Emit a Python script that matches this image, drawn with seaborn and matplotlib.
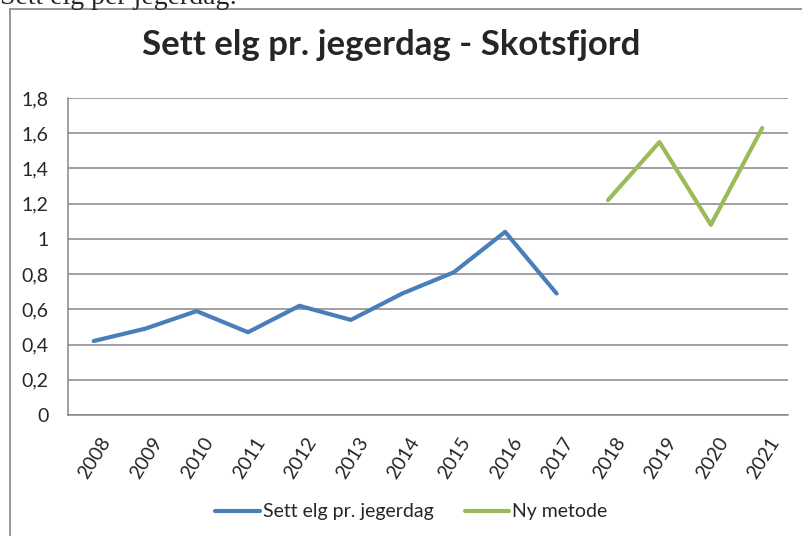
import numpy as np
import pandas as pd
import matplotlib
matplotlib.use('Agg')
import matplotlib.pyplot as plt
import matplotlib.transforms as mtransforms
from matplotlib.lines import Line2D
from matplotlib.ticker import FixedLocator, FuncFormatter
import seaborn as sns

# Data
years_old = [2008, 2009, 2010, 2011, 2012, 2013, 2014, 2015, 2016, 2017]
sett_elg = [0.42, 0.49, 0.59, 0.47, 0.62, 0.54, 0.69, 0.81, 1.04, 0.69]
years_new = [2018, 2019, 2020, 2021]
ny_metode = [1.22, 1.55, 1.08, 1.63]
all_years = years_old + years_new

series_names = ['Sett elg pr. jegerdag', 'Ny metode']
colors = ['#4A7EBB', '#9BBB59']

df = pd.concat([
    pd.DataFrame({'year': years_old, 'value': sett_elg, 'series': series_names[0]}),
    pd.DataFrame({'year': years_new, 'value': ny_metode, 'series': series_names[1]}),
], ignore_index=True)

sns.set_style('white')
plt.rcParams['font.family'] = ['Lato', 'DejaVu Sans']

fig = plt.figure(figsize=(8.02, 5.36), dpi=100)
ax = fig.add_axes([68 / 802, 1 - 415 / 536, 720 / 802, 317 / 536])

sns.lineplot(data=df, x='year', y='value', hue='series', palette=colors,
             linewidth=3, ax=ax, legend=False, solid_capstyle='round')

# axes look (Excel 2007 style)
grid_col = '#868686'
ax.set_xlim(2007.5, 2021.5)
ax.set_ylim(0, 1.8)
ax.yaxis.set_major_locator(FixedLocator(np.arange(0, 1.81, 0.2)))
ax.yaxis.set_major_formatter(FuncFormatter(
    lambda v, p: '0' if abs(v) < 1e-9 else ('1' if abs(v - 1) < 1e-9 else f'{v:.1f}'.replace('.', ','))))
ax.grid(axis='y', color=grid_col, linewidth=1.1)
ax.set_axisbelow(True)
for s in ['top', 'right']:
    ax.spines[s].set_visible(False)
for s in ['left', 'bottom']:
    ax.spines[s].set_color(grid_col)
    ax.spines[s].set_linewidth(1.1)

ax.set_xticks(all_years)
ax.set_xticklabels([str(y) for y in all_years], rotation=58, ha='right',
                   rotation_mode='anchor', fontsize=14)
ax.set_xticks(np.arange(2007.5, 2022, 1.0), minor=True)
ax.tick_params(axis='x', which='major', length=0, pad=14)
ax.tick_params(axis='x', which='minor', length=5, width=1.1, color=grid_col, direction='out')
ax.tick_params(axis='y', length=5, width=1.1, color=grid_col, direction='out', pad=9, labelsize=14)
offset = mtransforms.ScaledTranslation(6 / 100, 0, fig.dpi_scale_trans)
for lab in ax.get_xticklabels():
    lab.set_transform(lab.get_transform() + offset)
ax.set_xlabel('')
ax.set_ylabel('')

# title and legend
fig.text(0.488, 1 - 55 / 536, 'Sett elg pr. jegerdag - Skotsfjord', ha='center',
         va='baseline', fontsize=25, fontweight='bold')
handles = [Line2D([], [], color=c, linewidth=3) for c in colors]
fig.legend(handles, series_names, loc='center', bbox_to_anchor=(0.513, 1 - 512 / 536),
           ncol=2, frameon=False, fontsize=14, handlelength=2.3, handletextpad=0.15,
           columnspacing=1.6)

# chart box border and the cut-off document text above it
fig.add_artist(Line2D([10 / 802, 10 / 802], [0, 1 - 9 / 536], color=grid_col, linewidth=1.2))
fig.add_artist(Line2D([10 / 802, 1], [1 - 9 / 536, 1 - 9 / 536], color=grid_col, linewidth=1.2))
fig.text(0.0, 1 - 4 / 536, 'Sett elg per jegerdag:', ha='left', va='baseline',
         fontsize=20, family=['Liberation Serif', 'DejaVu Serif'])

fig.savefig('out.png', dpi=100)
